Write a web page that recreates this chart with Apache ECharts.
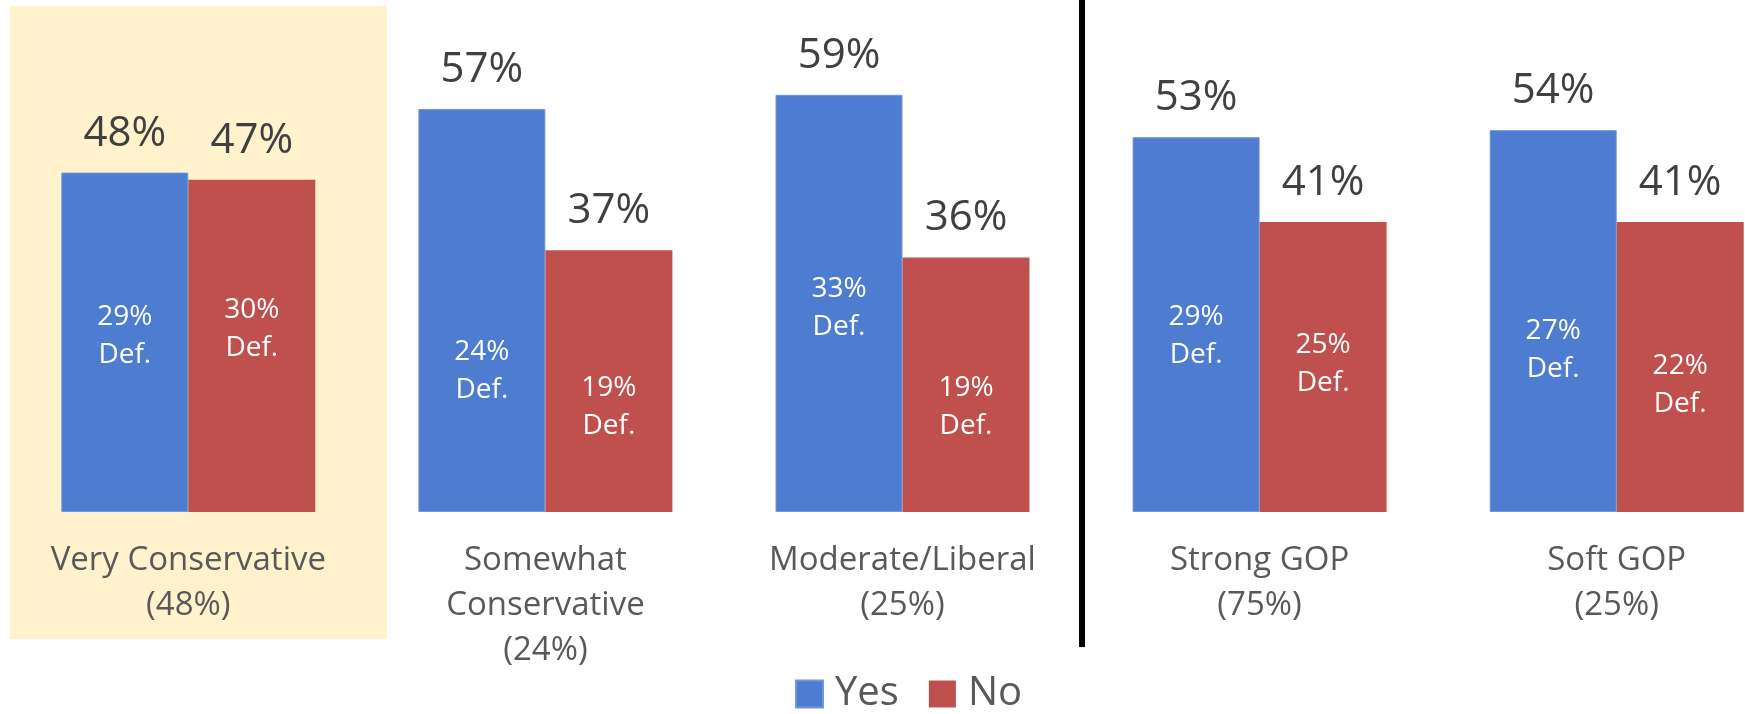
<!DOCTYPE html>
<html>
<head>
<meta charset="utf-8">
<script src="https://cdn.jsdelivr.net/npm/echarts@6/dist/echarts.min.js"></script>
<style>
html,body{margin:0;padding:0;background:#fff;}
#chart{width:1745px;height:714px;}
</style>
</head>
<body>
<div id="chart"></div>
<script>
var categories = ['Very Conservative', 'Somewhat\nConservative', 'Moderate/Liberal', 'Strong GOP', 'Soft GOP'];
var groupShares = [48, 24, 25, 75, 25];
var yesValues = [48, 57, 59, 53, 54];
var noValues = [47, 37, 36, 41, 41];
var yesDefinite = [29, 24, 33, 29, 27];
var noDefinite = [30, 19, 19, 25, 22];
var seriesNames = ['Yes', 'No'];

var FONT = '"Open Sans", "Noto Sans", sans-serif';
var BLUE = '#4E7CD0';
var RED = '#C0504D';

var axisLabels = categories.map(function (c, i) { return c + '\n(' + groupShares[i] + '%)'; });

var chart = echarts.init(document.getElementById('chart'), null, {renderer: 'canvas'});

function mainSeries(name, data, color, border) {
  return {
    name: name,
    type: 'bar',
    xAxisIndex: 0,
    data: data,
    barWidth: 127,
    barGap: '0%',
    clip: false,
    itemStyle: {color: color, borderColor: border, borderWidth: border ? 1 : 0},
    label: {
      show: true,
      position: 'top',
      distance: 18,
      formatter: '{c}%',
      fontFamily: FONT,
      fontSize: 42,
      color: '#404040'
    },
    z: 2
  };
}

function defSeries(name, data) {
  return {
    name: name + ' def',
    type: 'bar',
    xAxisIndex: 1,
    data: data,
    barWidth: 127,
    barGap: '0%',
    clip: false,
    silent: true,
    itemStyle: {color: 'rgba(0,0,0,0)'},
    label: {
      show: true,
      position: 'insideTop',
      distance: 0,
      offset: [0, -9],
      formatter: '{c}%\nDef.',
      fontFamily: FONT,
      fontSize: 28,
      lineHeight: 38,
      color: '#ffffff'
    },
    z: 3
  };
}

var option = {
  backgroundColor: '#ffffff',
  animation: false,
  graphic: {
    elements: [
      {type: 'rect', z: -100, silent: true, shape: {x: 10, y: 6, width: 377, height: 633}, style: {fill: '#FFF2CC'}},
      {type: 'line', z: 100, silent: true, shape: {x1: 1082, y1: 0, x2: 1082, y2: 647}, style: {stroke: '#000000', lineWidth: 6}}
    ]
  },
  legend: {
    data: seriesNames,
    left: 790,
    top: 669,
    icon: 'rect',
    itemWidth: 27,
    itemHeight: 27,
    itemGap: 30,
    textStyle: {fontFamily: FONT, fontSize: 40, lineHeight: 27, color: '#595959', padding: [0, 0, 0, 7]}
  },
  grid: {left: 188.3, right: 128.3, top: 17, bottom: 202, containLabel: false},
  xAxis: [
    {
      type: 'category',
      boundaryGap: false,
      data: axisLabels,
      axisLine: {show: false},
      axisTick: {show: false},
      axisLabel: {
        interval: 0,
        margin: 26,
        fontFamily: FONT,
        fontSize: 33,
        lineHeight: 45,
        color: '#595959'
      }
    },
    {
      type: 'category',
      boundaryGap: false,
      data: axisLabels,
      show: false
    }
  ],
  yAxis: {type: 'value', min: 0, max: 70, show: false, splitLine: {show: false}},
  series: [
    mainSeries(seriesNames[0], yesValues, BLUE, '#7096DC'),
    mainSeries(seriesNames[1], noValues, RED, null),
    defSeries(seriesNames[0], yesDefinite),
    defSeries(seriesNames[1], noDefinite)
  ]
};
chart.setOption(option);
</script>
</body>
</html>
